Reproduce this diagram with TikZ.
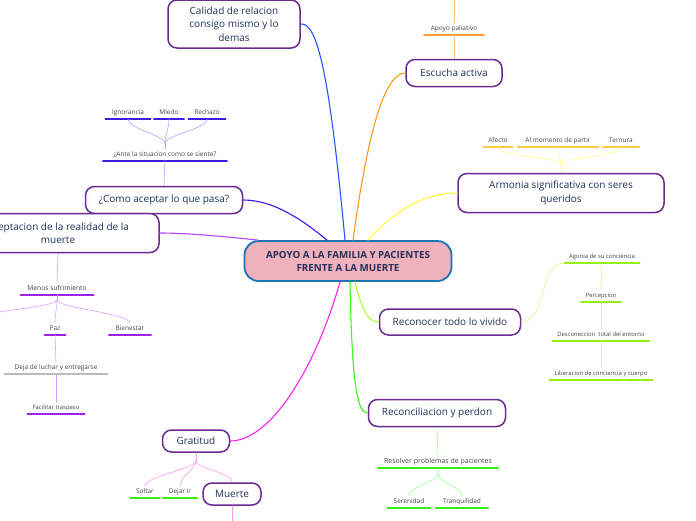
\documentclass[tikz,border=0pt]{standalone}
\usepackage{fontspec}
\setmainfont{Open Sans}
\usetikzlibrary{positioning}
\definecolor{morado}{HTML}{6A2C91}
\definecolor{azul}{HTML}{253159}
\definecolor{rosa}{HTML}{EFB1BC}
\definecolor{borderaiz}{HTML}{1B75B5}
\definecolor{gristexto}{HTML}{444444}
% colores de ramas
\definecolor{cazul}{HTML}{2255FF}
\definecolor{cnaranja}{HTML}{FF9A1A}
\definecolor{camarillo}{HTML}{FFFF33}
\definecolor{cindigo}{HTML}{4411EE}
\definecolor{cvioleta}{HTML}{B444FF}
\definecolor{cmagenta}{HTML}{FF22EE}
\definecolor{cverde}{HTML}{33FF11}
\definecolor{clima}{HTML}{AAFF33}
% subrayados
\definecolor{unaranja}{HTML}{FFA033}
\definecolor{uindigo}{HTML}{3A1FE8}
\definecolor{uamarillo}{HTML}{FFC94A}
\definecolor{ulima}{HTML}{99EE11}
\definecolor{uvioleta}{HTML}{A020F0}
\definecolor{ugris}{HTML}{BBBBBB}
\definecolor{uverde}{HTML}{33EE11}
% enlaces claros
\definecolor{lnaranja}{HTML}{FFC078}
\definecolor{lindigo}{HTML}{B0A0FF}
\definecolor{lamarillo}{HTML}{FFFF80}
\definecolor{llima}{HTML}{CCFF88}
\definecolor{lvioleta}{HTML}{D9A0FF}
\definecolor{lrosa}{HTML}{FF99EE}
\definecolor{lverde}{HTML}{99FF99}
\newcommand{\rotulo}[7][]{%
  \node[hoja,minimum width=#5pt,#1] (#2) at (#3,#4) {#7};
  \draw[line width=1.3pt,#6] (#2.south west)--(#2.south east);}

\begin{document}
\begin{tikzpicture}[x=1pt,y=-1pt, line join=round, line cap=round,
  raiz/.style={draw=borderaiz, fill=rosa, line width=1.8pt, rounded corners=14pt, text=azul, align=center, font=\bfseries\fontsize{9.8}{13}\selectfont, minimum width=207pt, minimum height=40pt},
  tema/.style={draw=morado, fill=white, line width=1.5pt, rounded corners=9pt, text=azul, align=center, font=\fontsize{10}{13.5}\selectfont, inner xsep=3pt},
  hoja/.style={anchor=south, text=gristexto, inner xsep=0pt, inner ysep=2.5pt, text height=4.8pt, text depth=1.6pt, font=\fontsize{6.5}{7}\selectfont},
  rama/.style={line width=1.1pt},
  enlace/.style={line width=0.6pt}]
	\useasboundingbox (0,0) rectangle (696,520);
	% nodo central
	\node[raiz] (raiz) at (348,261) {APOYO A LA FAMILIA Y PACIENTES\\FRENTE A LA MUERTE};
	% temas
	\node[tema, minimum width=132pt, minimum height=48pt] (calidad) at (234,24) {Calidad de relacion\\consigo mismo y lo\\demas};
	\node[tema, minimum width=96pt, minimum height=27pt] (escucha) at (454,73) {Escucha activa};
	\node[tema, minimum width=206pt, minimum height=39pt] (armonia) at (561,193) {Armonia significativa con seres\\queridos};
	\node[tema, minimum width=157pt, minimum height=27pt] (como) at (164,200) {¿Como aceptar lo que pasa?};
	\node[tema, minimum width=202pt, minimum height=39pt] (aceptacion) at (58,233) {Aceptacion de la realidad de la\\muerte};
	\node[tema, minimum width=141pt, minimum height=26pt] (reconocer) at (450,322) {Reconocer todo lo vivido};
	\node[tema, minimum width=137pt, minimum height=27pt] (reconciliacion) at (437,413) {Reconciliacion y perdon};
	\node[tema, minimum width=67pt, minimum height=22pt] (gratitud) at (196,441) {Gratitud};
	\node[tema, minimum width=58pt, minimum height=22pt] (muerte) at (232,494) {Muerte};
	% rotulos
	\rotulo{apoyo}{454}{35}{60}{unaranja}{Apoyo paliativo}
	\rotulo{ignorancia}{128}{119}{45}{uindigo}{Ignorancia}
	\rotulo{miedo}{169}{119}{30}{uindigo}{Miedo}
	\rotulo{rechazo}{207}{119}{37}{uindigo}{Rechazo}
	\rotulo{ante}{165}{161}{124}{uindigo}{¿Ante la situacion como se siente?}
	\rotulo{afecto}{498}{147}{29}{uamarillo}{Afecto}
	\rotulo{momento}{558}{147}{81}{uamarillo}{Al momento de partir}
	\rotulo{ternura}{621}{147}{36}{uamarillo}{Ternura}
	\rotulo[font=\fontsize{5.9}{6}\selectfont]{agonia}{602}{263}{75}{ulima}{Agonia de su conciencia}
	\rotulo[font=\fontsize{5.9}{6}\selectfont]{percepcion}{601}{302}{40}{ulima}{Percepcion}
	\rotulo[font=\fontsize{5.9}{6}\selectfont]{desconeccion}{601}{341}{97}{ulima}{Desconeccion\ \ total del entorno}
	\rotulo[font=\fontsize{5.9}{6}\selectfont]{liberacion}{601}{380}{103}{ulima}{Liberacion de conciencia y cuerpo}
	\rotulo[font=\fontsize{6.7}{7}\selectfont]{menos}{57}{295}{73}{uvioleta}{Menos sufrimiento}
	\rotulo{paz}{55}{335}{21}{uvioleta}{Paz}
	\rotulo{bienestar}{130}{335}{42}{uvioleta}{Bienestar}
	\rotulo{deja}{56}{374}{103}{ugris}{Deja de luchar y entregarse}
	\rotulo[font=\fontsize{5.9}{6}\selectfont]{facilitar}{56}{414}{57}{uvioleta}{Facilitar traspaso}
	\rotulo{soltar}{145}{498}{29}{uverde}{Soltar}
	\rotulo{dejar}{180}{498}{34}{uverde}{Dejar ir}
	\rotulo[font=\fontsize{7}{7}\selectfont]{resolver}{438}{468}{120}{uverde}{Resolver problemas de pacientes}
	\rotulo{serenidad}{409}{508}{43}{uverde}{Serenidad}
	\rotulo{tranquilidad}{462}{508}{52}{uverde}{Tranquilidad}
	% ramas principales
	\draw[rama,draw=cazul] ([xshift=-3pt]raiz.north) .. controls (330,80) and (318,22) .. (calidad.east);
	\draw[rama,draw=cnaranja] ([xshift=5pt]raiz.north) .. controls (368,130) and (385,73) .. (escucha.west);
	\draw[rama,draw=camarillo] ([xshift=20pt]raiz.north) .. controls (395,210) and (425,193) .. (armonia.west);
	\draw[rama,draw=cindigo] ([xshift=-21pt]raiz.north) .. controls (305,222) and (275,200) .. (como.east);
	\draw[rama,draw=cvioleta] ([xshift=-90pt]raiz.north) .. controls (220,236) and (185,233) .. (aceptacion.east);
	\draw[rama,draw=cmagenta] ([xshift=-8pt]raiz.south) .. controls (315,370) and (270,441) .. (gratitud.east);
	\draw[rama,draw=cverde] ([xshift=2pt]raiz.south) .. controls (352,390) and (358,413) .. (reconciliacion.west);
	\draw[rama,draw=clima] ([xshift=7pt]raiz.south) .. controls (362,310) and (368,322) .. (reconocer.west);
	% enlaces secundarios
	\coordinate (arriba) at (454,-5);
	\draw[enlace,draw=lnaranja] (apoyo.north) -- (arriba);
	\draw[enlace,draw=lnaranja] (apoyo.south) -- (escucha.north);
	\draw[enlace,draw=lindigo] (ante.north) -- ++(0,-6) coordinate (nudoA);
	\foreach \h in {ignorancia,miedo,rechazo}
		\draw[enlace,draw=lindigo] (nudoA) .. controls +(0,-8) and +(0,10) .. (\h.south);
	\draw[enlace,draw=lindigo] (ante.south) -- (como.north);
	\draw[enlace,draw=lamarillo] (armonia.north) -- ++(0,-8) coordinate (nudoB);
	\foreach \h in {afecto,momento,ternura}
		\draw[enlace,draw=lamarillo] (nudoB) .. controls +(0,-8) and +(0,10) .. (\h.south);
	\draw[enlace,draw=llima] (reconocer.east) .. controls (548,322) and (538,263) .. (agonia.south west);
	\draw[enlace,draw=llima] (agonia.south) -- (percepcion.north);
	\draw[enlace,draw=llima] (percepcion.south) -- (desconeccion.north);
	\draw[enlace,draw=llima] (desconeccion.south) -- (liberacion.north);
	\draw[enlace,draw=lvioleta] (aceptacion.south) -- (menos.north);
	\draw[enlace,draw=lvioleta] (menos.south) -- ++(0,5) coordinate (nudoC);
	\coordinate (fuera) at (-35,322);
	\foreach \h in {paz,bienestar,fuera}
		\draw[enlace,draw=lvioleta] (nudoC) .. controls +(0,8) and +(0,-10) .. (\h.north);
	\draw[enlace,draw=lvioleta] (paz.south) -- (deja.north);
	\draw[enlace,draw=lvioleta] (deja.south) -- (facilitar.north);
	\draw[enlace,draw=lrosa] (gratitud.south) -- ++(0,8) coordinate (nudoD);
	\foreach \h in {soltar,dejar,muerte}
		\draw[enlace,draw=lrosa] (nudoD) .. controls +(0,8) and +(0,-10) .. (\h.north);
	\coordinate (abajo) at (232,525);
	\draw[enlace,draw=lrosa] (muerte.south) -- (abajo);
	\draw[enlace,draw=lverde] (reconciliacion.south) -- (resolver.north);
	\draw[enlace,draw=lverde] (resolver.south) -- ++(0,6) coordinate (nudoE);
	\foreach \h in {serenidad,tranquilidad}
		\draw[enlace,draw=lverde] (nudoE) .. controls +(0,8) and +(0,-10) .. (\h.north);
\end{tikzpicture}
\end{document}
